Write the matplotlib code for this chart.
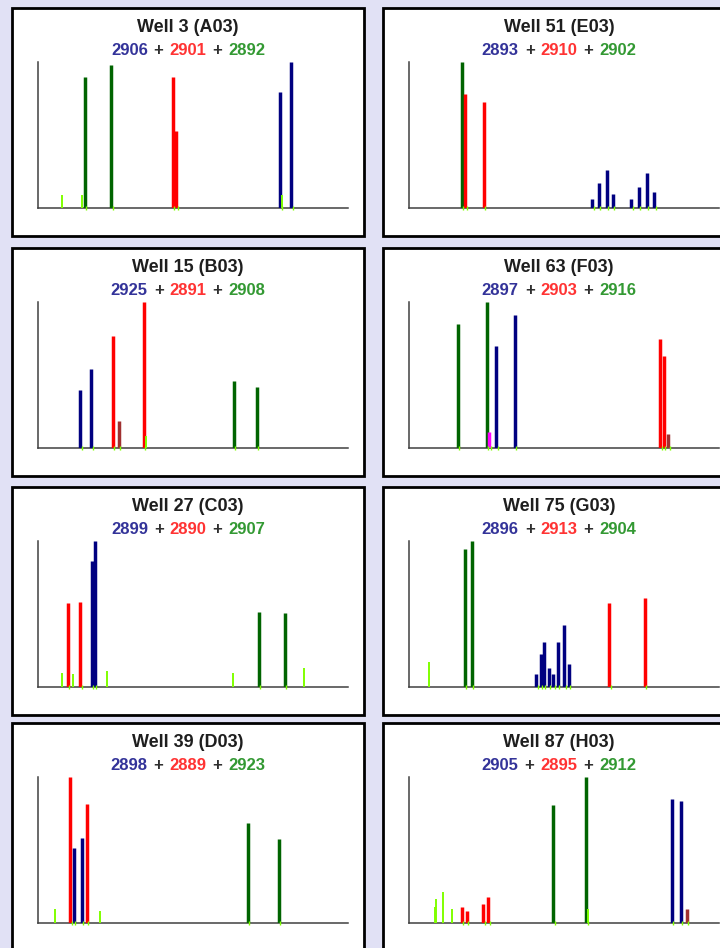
import matplotlib
matplotlib.use("Agg")
import matplotlib.pyplot as plt
from matplotlib.patches import Rectangle

plt.rcParams['font.family'] = ['Liberation Sans', 'DejaVu Sans']

# figure size in pixels
W, H = 720, 948

# panel titles and dye ids (blue + red + green)
wells = ["Well 3 (A03)", "Well 51 (E03)", "Well 15 (B03)", "Well 63 (F03)",
         "Well 27 (C03)", "Well 75 (G03)", "Well 39 (D03)", "Well 87 (H03)"]
blue_ids = [2906, 2893, 2925, 2897, 2899, 2896, 2898, 2905]
red_ids = [2901, 2910, 2891, 2903, 2890, 2913, 2889, 2895]
green_ids = [2892, 2902, 2908, 2916, 2907, 2904, 2923, 2912]

# peaks per well: (position, relative height, dye)
# G = green, R = red, B = blue, L = light green, M = maroon, P = pink
a03 = [(24.3, 0.086, 'L'), (44.3, 0.086, 'L'), (46.7, 0.898, 'G'), (73.3, 0.98, 'G'),
       (135.0, 0.898, 'R'), (138.3, 0.527, 'R'), (242.3, 0.795, 'B'),
       (244.3, 0.086, 'L'), (253.3, 1.0, 'B')]
e03 = [(53.0, 1.0, 'G'), (56.3, 0.784, 'R'), (75.0, 0.725, 'R'),
       (183.3, 0.061, 'B'), (189.7, 0.168, 'B'), (197.7, 0.259, 'B'), (204.0, 0.098, 'B'),
       (222.3, 0.061, 'B'), (230.0, 0.143, 'B'), (237.7, 0.239, 'B'), (245.3, 0.109, 'B')]
b03 = [(42.3, 0.399, 'B'), (53.3, 0.538, 'B'), (75.0, 0.768, 'R'), (81.0, 0.187, 'M'),
       (105.7, 1.0, 'R'), (108.3, 0.084, 'L'), (195.7, 0.456, 'G'), (219.0, 0.421, 'G')]
f03 = [(48.7, 0.85, 'G'), (78.0, 1.0, 'G'), (80.3, 0.107, 'P'), (87.3, 0.699, 'B'),
       (106.0, 0.909, 'B'), (251.3, 0.745, 'R'), (254.7, 0.629, 'R'), (259.3, 0.096, 'M')]
c03 = [(24.3, 0.098, 'L'), (30.0, 0.573, 'R'), (35.3, 0.086, 'L'), (42.3, 0.584, 'R'),
       (53.5, 0.861, 'B'), (56.5, 1.0, 'B'), (69.3, 0.109, 'L'), (195.0, 0.098, 'L'),
       (220.7, 0.514, 'G'), (247.0, 0.505, 'G'), (266.3, 0.132, 'L')]
g03 = [(20.0, 0.168, 'L'), (56.0, 0.943, 'G'), (62.7, 1.0, 'G'),
       (127.3, 0.086, 'B'), (132.0, 0.225, 'B'), (135.0, 0.307, 'B'), (140.0, 0.132, 'B'),
       (144.3, 0.086, 'B'), (149.0, 0.307, 'B'), (155.3, 0.423, 'B'), (160.0, 0.157, 'B'),
       (200.3, 0.573, 'R'), (236.0, 0.607, 'R')]
d03 = [(16.7, 0.096, 'L'), (32.3, 1.0, 'R'), (36.0, 0.513, 'B'), (43.7, 0.583, 'B'),
       (48.7, 0.815, 'R'), (61.7, 0.084, 'L'), (209.7, 0.688, 'G'), (241.0, 0.572, 'G')]
h03 = [(26.0, 0.107, 'L'), (27.3, 0.166, 'L'), (34.0, 0.212, 'L'), (43.0, 0.096, 'L'),
       (53.0, 0.107, 'R'), (58.0, 0.084, 'R'), (74.3, 0.13, 'R'), (79.3, 0.178, 'R'),
       (144.3, 0.806, 'G'), (177.3, 1.0, 'G'), (179.3, 0.096, 'L'),
       (262.7, 0.852, 'B'), (272.0, 0.838, 'B'), (278.0, 0.096, 'M')]
peaks = [a03, e03, b03, f03, c03, g03, d03, h03]

dye_colors = {'G': '#006400', 'R': '#FF0000', 'B': '#000080',
              'L': '#80FF00', 'M': '#A03030', 'P': '#FF00FF'}
id_colors = ['#333399', '#FF3333', '#339933']

col_x = [12, 383]
row_y = [8, 248, 487, 723]


def fx(px):
    return px / W


def fy(py):
    return 1 - py / H


fig = plt.figure(figsize=(W / 100, H / 100), dpi=100)
fig.patch.set_facecolor('#E1E1F5')
renderer = fig.canvas.get_renderer()

for i, well in enumerate(wells):
    px0 = col_x[i % 2]
    py0 = row_y[i // 2]

    box = Rectangle((fx(px0), fy(py0 + 228)), 352 / W, 228 / H,
                    transform=fig.transFigure, facecolor='white',
                    edgecolor='black', linewidth=2, zorder=-5)
    fig.add_artist(box)

    ax = fig.add_axes([fx(px0 + 26), fy(py0 + 200), 310 / W, 146 / H])
    ax.set_facecolor('none')
    ax.set_xlim(0, 310)
    ax.set_ylim(0, 1)
    for s in ['top', 'right']:
        ax.spines[s].set_visible(False)
    for s in ['left', 'bottom']:
        ax.spines[s].set_color('#404040')
        ax.spines[s].set_linewidth(1.1)
    ax.set_xticks([])
    ax.set_yticks([])

    for pos, hgt, dye in peaks[i]:
        lw = 1.4 if dye == 'L' else 2.5
        ax.vlines(pos, 0, hgt, colors=dye_colors[dye], linewidth=lw, zorder=3)
        if dye != 'L':
            ax.vlines(pos + 1.2, -0.012, 0.012, colors='#80FF00', linewidth=1,
                      zorder=4, clip_on=False)

    cx = px0 + 176
    fig.text(fx(cx), fy(py0 + 24), well, ha='center', va='baseline',
             fontsize=13, fontweight='bold', color='#1E1E1E')

    # coloured subtitle built from pieces
    pieces = [(str(blue_ids[i]), id_colors[0]), ('+', '#303030'),
              (str(red_ids[i]), id_colors[1]), ('+', '#303030'),
              (str(green_ids[i]), id_colors[2])]
    texts = []
    widths = []
    for txt, c in pieces:
        t = fig.text(0, fy(py0 + 47), txt, ha='left', va='baseline',
                     fontsize=12, fontweight='bold', color=c)
        texts.append(t)
        widths.append(t.get_window_extent(renderer).width)
    gap = 6
    total = sum(widths) + gap * (len(widths) - 1)
    x = cx - total / 2
    for t, w in zip(texts, widths):
        t.set_x(fx(x))
        x += w + gap

fig.savefig('out.png', dpi=100, facecolor=fig.get_facecolor())
